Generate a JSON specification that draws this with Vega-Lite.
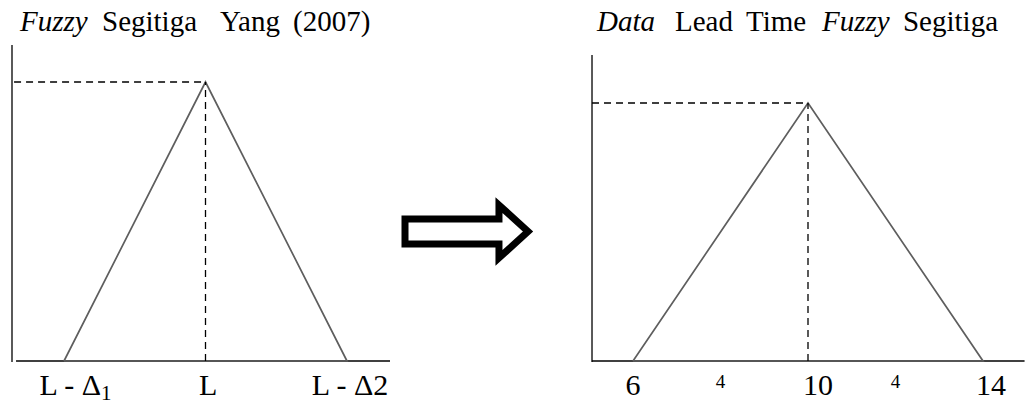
{
  "$schema": "https://vega.github.io/schema/vega-lite/v6.json",
  "padding": 0,
  "spacing": 0,
  "bounds": "flush",
  "background": "white",
  "config": {"view": {"stroke": null}, "concat": {"spacing": 0}, "text": {"font": "Liberation Serif", "color": "black"}},
  "hconcat": [
    {
      "width": 395,
      "height": 403,
      "layer": [
        {
          "data": {"values": [
            {"x": -1.3675, "x2": -1.3675, "y": -0.0036, "y2": 1.1326},
            {"x": -1.339, "x2": 1.304, "y": 0, "y2": 0}
          ]},
          "mark": {"type": "rule", "color": "black", "strokeWidth": 1.3},
          "encoding": {
            "x": {"field": "x", "type": "quantitative", "scale": {"domain": [-1.4523, 1.3392], "nice": false, "zero": false}, "axis": null},
            "x2": {"field": "x2"},
            "y": {"field": "y", "type": "quantitative", "scale": {"domain": [-0.1505, 1.2939], "nice": false, "zero": false}, "axis": null},
            "y2": {"field": "y2"}
          }
        },
        {
          "data": {"values": [
            {"pos": -1, "mu": 0, "i": 0},
            {"pos": 0, "mu": 1, "i": 1},
            {"pos": 1, "mu": 0, "i": 2},
            {"pos": -1, "mu": 0, "i": 3}
          ]},
          "mark": {"type": "line", "color": "#5e5e5e", "strokeWidth": 1.7},
          "encoding": {
            "x": {"field": "pos", "type": "quantitative", "axis": null},
            "y": {"field": "mu", "type": "quantitative", "axis": null},
            "order": {"field": "i"}
          }
        },
        {
          "data": {"values": [
            {"x": -1.353, "x2": 0, "y": 1, "y2": 1},
            {"x": 0, "x2": 0, "y": 0, "y2": 1}
          ]},
          "mark": {"type": "rule", "color": "black", "strokeWidth": 1.3, "strokeDash": [7, 5]},
          "encoding": {
            "x": {"field": "x", "type": "quantitative", "axis": null},
            "x2": {"field": "x2"},
            "y": {"field": "y", "type": "quantitative", "axis": null},
            "y2": {"field": "y2"}
          }
        },
        {
          "data": {"values": [
            {"t": "Fuzzy", "pos": -1.311, "mu": 1.1828, "emph": true},
            {"t": "Segitiga", "pos": -0.7314, "mu": 1.1828, "emph": false},
            {"t": "Yang", "pos": 0.1025, "mu": 1.1828, "emph": false},
            {"t": "(2007)", "pos": 0.6184, "mu": 1.1828, "emph": false}
          ]},
          "layer": [
            {
              "transform": [{"filter": "datum.emph"}],
              "mark": {"type": "text", "align": "left", "baseline": "alphabetic", "fontSize": 29, "fontStyle": "italic"},
              "encoding": {
                "x": {"field": "pos", "type": "quantitative", "axis": null},
                "y": {"field": "mu", "type": "quantitative", "axis": null},
                "text": {"field": "t"}
              }
            },
            {
              "transform": [{"filter": "!datum.emph"}],
              "mark": {"type": "text", "align": "left", "baseline": "alphabetic", "fontSize": 29},
              "encoding": {
                "x": {"field": "pos", "type": "quantitative", "axis": null},
                "y": {"field": "mu", "type": "quantitative", "axis": null},
                "text": {"field": "t"}
              }
            }
          ]
        },
        {
          "data": {"values": [
            {"t": "L", "pos": 0.018, "mu": -0.1219},
            {"t": "L - Δ2", "pos": 1.021, "mu": -0.1219}
          ]},
          "mark": {"type": "text", "align": "center", "baseline": "alphabetic", "fontSize": 30},
          "encoding": {
            "x": {"field": "pos", "type": "quantitative", "axis": null},
            "y": {"field": "mu", "type": "quantitative", "axis": null},
            "text": {"field": "t"}
          }
        },
        {
          "data": {"values": [{"t": "L - Δ", "pos": -0.7385, "mu": -0.1219}]},
          "mark": {"type": "text", "align": "right", "baseline": "alphabetic", "fontSize": 30},
          "encoding": {
            "x": {"field": "pos", "type": "quantitative", "axis": null},
            "y": {"field": "mu", "type": "quantitative", "axis": null},
            "text": {"field": "t"}
          }
        },
        {
          "data": {"values": [{"t": "1", "pos": -0.7385, "mu": -0.1398}]},
          "mark": {"type": "text", "align": "left", "baseline": "alphabetic", "fontSize": 21},
          "encoding": {
            "x": {"field": "pos", "type": "quantitative", "axis": null},
            "y": {"field": "mu", "type": "quantitative", "axis": null},
            "text": {"field": "t"}
          }
        }
      ]
    },
    {
      "width": 165,
      "height": 403,
      "data": {"values": [
        {"u": 0, "v": 0, "i": 0},
        {"u": 0, "v": 0.1016, "i": 1},
        {"u": 0.764, "v": 0.1016, "i": 2},
        {"u": 0.764, "v": 0.215, "i": 3},
        {"u": 1, "v": 0, "i": 4},
        {"u": 0.764, "v": -0.215, "i": 5},
        {"u": 0.764, "v": -0.1016, "i": 6},
        {"u": 0, "v": -0.1016, "i": 7},
        {"u": 0, "v": 0, "i": 8}
      ]},
      "mark": {"type": "line", "color": "black", "strokeWidth": 7, "strokeJoin": "miter", "strokeMiterLimit": 10},
      "encoding": {
        "x": {"field": "u", "type": "quantitative", "scale": {"domain": [-0.0813, 1.2602], "nice": false, "zero": false}, "axis": null},
        "y": {"field": "v", "type": "quantitative", "scale": {"domain": [-1.3943, 1.8821], "nice": false, "zero": false}, "axis": null},
        "order": {"field": "i"}
      }
    },
    {
      "width": 465,
      "height": 403,
      "layer": [
        {
          "data": {"values": [
            {"x": 5.063, "x2": 5.063, "y": -0.004, "y2": 1.186},
            {"x": 5.063, "x2": 14.95, "y": 0, "y2": 0}
          ]},
          "mark": {"type": "rule", "color": "black", "strokeWidth": 1.3},
          "encoding": {
            "x": {"field": "x", "type": "quantitative", "scale": {"domain": [4.3314, 14.96], "nice": false, "zero": false}, "axis": null},
            "x2": {"field": "x2"},
            "y": {"field": "y", "type": "quantitative", "scale": {"domain": [-0.1628, 1.3992], "nice": false, "zero": false}, "axis": null},
            "y2": {"field": "y2"}
          }
        },
        {
          "data": {"values": [
            {"lead": 6, "mu": 0, "i": 0},
            {"lead": 10, "mu": 1, "i": 1},
            {"lead": 14, "mu": 0, "i": 2},
            {"lead": 6, "mu": 0, "i": 3}
          ]},
          "mark": {"type": "line", "color": "#5e5e5e", "strokeWidth": 1.7},
          "encoding": {
            "x": {"field": "lead", "type": "quantitative", "axis": null},
            "y": {"field": "mu", "type": "quantitative", "axis": null},
            "order": {"field": "i"}
          }
        },
        {
          "data": {"values": [
            {"x": 5.063, "x2": 10, "y": 1, "y2": 1},
            {"x": 10, "x2": 10, "y": 0, "y2": 1}
          ]},
          "mark": {"type": "rule", "color": "black", "strokeWidth": 1.3, "strokeDash": [7, 5]},
          "encoding": {
            "x": {"field": "x", "type": "quantitative", "axis": null},
            "x2": {"field": "x2"},
            "y": {"field": "y", "type": "quantitative", "axis": null},
            "y2": {"field": "y2"}
          }
        },
        {
          "data": {"values": [
            {"t": "Data", "lead": 5.177, "mu": 1.279, "emph": true},
            {"t": "Lead", "lead": 6.96, "mu": 1.279, "emph": false},
            {"t": "Time", "lead": 8.583, "mu": 1.279, "emph": false},
            {"t": "Fuzzy", "lead": 10.32, "mu": 1.279, "emph": true},
            {"t": "Segitiga", "lead": 12.171, "mu": 1.279, "emph": false}
          ]},
          "layer": [
            {
              "transform": [{"filter": "datum.emph"}],
              "mark": {"type": "text", "align": "left", "baseline": "alphabetic", "fontSize": 29, "fontStyle": "italic"},
              "encoding": {
                "x": {"field": "lead", "type": "quantitative", "axis": null},
                "y": {"field": "mu", "type": "quantitative", "axis": null},
                "text": {"field": "t"}
              }
            },
            {
              "transform": [{"filter": "!datum.emph"}],
              "mark": {"type": "text", "align": "left", "baseline": "alphabetic", "fontSize": 29},
              "encoding": {
                "x": {"field": "lead", "type": "quantitative", "axis": null},
                "y": {"field": "mu", "type": "quantitative", "axis": null},
                "text": {"field": "t"}
              }
            }
          ]
        },
        {
          "data": {"values": [
            {"t": "6", "lead": 6, "mu": -0.1318},
            {"t": "10", "lead": 10.23, "mu": -0.1318},
            {"t": "14", "lead": 14.18, "mu": -0.1318}
          ]},
          "mark": {"type": "text", "align": "center", "baseline": "alphabetic", "fontSize": 30},
          "encoding": {
            "x": {"field": "lead", "type": "quantitative", "axis": null},
            "y": {"field": "mu", "type": "quantitative", "axis": null},
            "text": {"field": "t"}
          }
        },
        {
          "data": {"values": [
            {"t": "4", "lead": 8, "mu": -0.1047},
            {"t": "4", "lead": 12, "mu": -0.1047}
          ]},
          "mark": {"type": "text", "align": "center", "baseline": "alphabetic", "fontSize": 19},
          "encoding": {
            "x": {"field": "lead", "type": "quantitative", "axis": null},
            "y": {"field": "mu", "type": "quantitative", "axis": null},
            "text": {"field": "t"}
          }
        }
      ]
    }
  ]
}
